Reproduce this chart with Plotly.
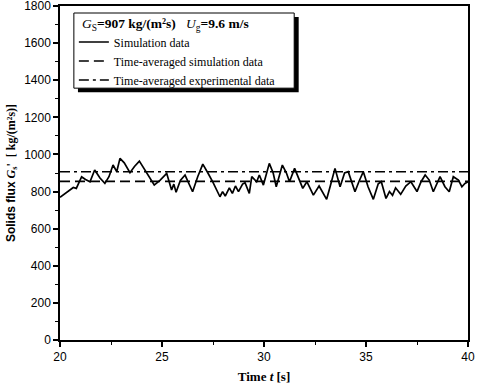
import plotly.graph_objects as go

# simulated solids flux
time_s = [20.0, 20.25, 20.5, 20.65, 20.8, 21.06, 21.25, 21.47, 21.7, 21.96,
          22.2, 22.4, 22.6, 22.78, 22.94, 23.15, 23.43, 23.65, 23.89, 24.25,
          24.62, 24.9, 25.23, 25.47, 25.58, 25.69, 25.9, 26.13, 26.3, 26.5,
          26.75, 27.0, 27.25, 27.5, 27.84, 27.97, 28.1, 28.3, 28.45, 28.6,
          28.75, 28.95, 29.07, 29.28, 29.4, 29.64, 29.77, 29.97, 30.26, 30.45,
          30.6, 30.9, 31.1, 31.25, 31.5, 31.7, 31.9, 32.1, 32.42, 32.7,
          33.07, 33.25, 33.48, 33.73, 33.95, 34.13, 34.3, 34.46, 34.65, 34.87,
          35.1, 35.36, 35.6, 35.75, 35.98, 36.15, 36.3, 36.45, 36.7, 36.95,
          37.2, 37.5, 37.7, 37.9, 38.1, 38.3, 38.63, 38.87, 39.08, 39.28,
          39.53, 39.7, 39.85, 40.0]
flux_sim = [769, 790, 812, 822, 817, 880, 865, 853, 916, 873,
            844, 880, 943, 907, 979, 955, 902, 935, 964, 898,
            835, 860, 898, 808, 840, 796, 860, 889, 850, 799,
            880, 948, 900, 850, 772, 800, 776, 820, 790, 830,
            800, 840, 848, 790, 880, 853, 889, 835, 952, 900,
            826, 943, 900, 853, 925, 870, 817, 853, 781, 830,
            758, 830, 925, 826, 900, 907, 853, 799, 853, 907,
            826, 758, 842, 853, 763, 800, 780, 820, 785, 830,
            853, 800, 853, 889, 862, 799, 880, 826, 799, 880,
            862, 826, 844, 853]

avg_sim = 855
avg_exp = 907
t_range = [20, 40]

fig = go.Figure()
fig.add_trace(go.Scatter(x=time_s, y=flux_sim, mode='lines', name='Simulation data',
                         line=dict(color='black', width=1.7)))
fig.add_trace(go.Scatter(x=t_range, y=[avg_sim, avg_sim], mode='lines',
                         name='Time-averaged simulation data',
                         line=dict(color='black', width=1.7, dash='10px,5px')))
fig.add_trace(go.Scatter(x=t_range, y=[avg_exp, avg_exp], mode='lines',
                         name='Time-averaged experimental data',
                         line=dict(color='black', width=1.5, dash='10px,4px,3px,4px')))

# legend frame drawn by hand: drop shadow, then white box with border
fig.add_shape(type='rect', xref='paper', yref='paper',
              x0=0.044, x1=0.585, y0=0.742, y1=0.967,
              fillcolor='black', line_width=0, layer='above')
fig.add_shape(type='rect', xref='paper', yref='paper',
              x0=0.034, x1=0.574, y0=0.754, y1=0.979,
              fillcolor='white', line=dict(color='black', width=1), layer='above')

fig.add_annotation(
    text='<i>G</i><sub>S</sub><b>=907 kg/(m²s)   </b><i>U</i><sub>g</sub><b>=9.6 m/s</b>',
    xref='paper', yref='paper', x=0.049, y=(340 - 25) / 334,
    xanchor='left', yanchor='middle', showarrow=False,
    font=dict(family='Liberation Serif', size=13.5, color='black'),
)

fig.update_layout(
    width=480, height=384,
    margin=dict(l=60, r=12, t=6, b=44),
    paper_bgcolor='white', plot_bgcolor='white',
    font=dict(family='Liberation Serif', size=12, color='black'),
    showlegend=True,
    legend=dict(
        x=0.034, y=(340 - 61) / 334, xanchor='left', yanchor='middle',
        bgcolor='rgba(0,0,0,0)', borderwidth=0,
        font=dict(family='Liberation Serif', size=12),
        tracegroupgap=0,
    ),
)

fig.update_xaxes(
    range=t_range, dtick=5, tick0=20, automargin=False, ticklabeloverflow='allow',
    showline=True, linecolor='black', linewidth=1.5, mirror=True,
    ticks='outside', ticklen=5, tickwidth=1.5, tickcolor='black',
    minor=dict(dtick=2.5, ticks='outside', ticklen=3, tickwidth=1.2, tickcolor='black'),
    showgrid=False, zeroline=False,
    tickfont=dict(family='Liberation Sans', size=12),
    title=dict(text='<b>Time <i>t</i> [s]</b>', standoff=10,
               font=dict(family='Liberation Serif', size=13)),
)
fig.update_yaxes(
    range=[0, 1800], dtick=200, automargin=False, ticklabeloverflow='allow',
    showline=True, linecolor='black', linewidth=1.5, mirror=True,
    ticks='outside', ticklen=5, tickwidth=1.5, tickcolor='black',
    minor=dict(dtick=100, ticks='outside', ticklen=3, tickwidth=1.2, tickcolor='black'),
    showgrid=False, zeroline=False,
    tickfont=dict(family='Liberation Sans', size=12),
    title=dict(text="<b><span style='font-family:Liberation Sans'>Solids flux</span> "
                    "<i>G</i><sub>s</sub>'  [ kg/(m²s)]</b>", standoff=6,
               font=dict(family='Liberation Serif', size=12)),
)

# drop the page margin so the figure sits at the window's corner
fig.write_html("out.html", config={'displayModeBar': False},
               post_script="document.body.style.margin='0';")
